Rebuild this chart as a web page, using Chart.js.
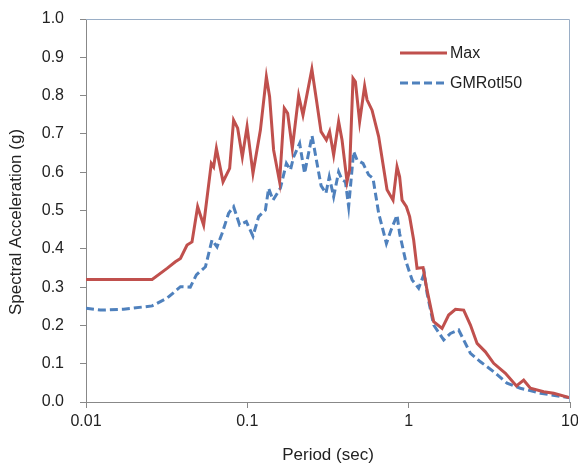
<!DOCTYPE html>
<html>
<head>
<meta charset="utf-8">
<script src="https://cdn.jsdelivr.net/npm/chart.js@4.4.1/dist/chart.umd.min.js"></script>
<style>
  html, body { margin: 0; padding: 0; background: #fff; }
  #wrap { width: 578px; height: 467px; }
</style>
</head>
<body>
<div id="wrap"><canvas id="specChart" width="578" height="467"></canvas></div>
<script>
// periodos (s) e valores
const maxPeriods = [0.01, 0.0257, 0.0318, 0.0358, 0.0385, 0.0423, 0.0454, 0.0492, 0.0536, 0.0598,
  0.0618, 0.0643, 0.0707, 0.0777, 0.0822, 0.0871, 0.0931, 0.0996, 0.1084, 0.1205,
  0.1312, 0.1374, 0.1455, 0.1585, 0.1695, 0.1778, 0.190, 0.208, 0.2213, 0.2512,
  0.268, 0.2864, 0.309, 0.3236, 0.3428, 0.3681, 0.3864, 0.415, 0.4305, 0.4519,
  0.4677, 0.4966, 0.5333, 0.552, 0.593, 0.6516, 0.7345, 0.80, 0.847, 0.879,
  0.91, 0.968, 1.014, 1.074, 1.127, 1.228, 1.30, 1.429, 1.611, 1.77,
  1.95, 2.193, 2.415, 2.655, 2.99, 3.365, 3.98, 4.656, 5.164, 5.68,
  6.87, 7.925, 10];
const maxValues = [0.32, 0.32, 0.349, 0.366, 0.375, 0.41, 0.418, 0.51, 0.462, 0.623,
  0.614, 0.662, 0.575, 0.61, 0.736, 0.715, 0.64, 0.719, 0.597, 0.71,
  0.849, 0.797, 0.658, 0.575, 0.767, 0.754, 0.662, 0.80, 0.749, 0.869,
  0.789, 0.706, 0.684, 0.706, 0.645, 0.732, 0.684, 0.575, 0.606, 0.845,
  0.836, 0.732, 0.825, 0.789, 0.762, 0.693, 0.554, 0.527, 0.614, 0.588,
  0.527, 0.51, 0.484, 0.423, 0.349, 0.351, 0.292, 0.21, 0.192, 0.227,
  0.242, 0.24, 0.201, 0.153, 0.131, 0.101, 0.075, 0.042, 0.057, 0.036,
  0.027, 0.023, 0.011];

const gmPeriods = [0.01, 0.01227, 0.0171, 0.0257, 0.0318, 0.0385, 0.0443, 0.0483, 0.055, 0.0604,
  0.0649, 0.0697, 0.0766, 0.0822, 0.0896, 0.0986, 0.1084, 0.1175, 0.1294, 0.1355,
  0.1443, 0.1602, 0.1746, 0.185, 0.1936, 0.211, 0.2264, 0.2518, 0.269, 0.2864,
  0.307, 0.322, 0.3428, 0.3681, 0.3864, 0.4055, 0.4246, 0.456, 0.4786, 0.5212,
  0.565, 0.601, 0.6516, 0.7278, 0.778, 0.847, 0.879, 0.955, 1.05, 1.153,
  1.25, 1.30, 1.429, 1.648, 1.815, 2.042, 2.193, 2.415, 2.786, 3.365,
  4.074, 4.92, 6.56, 10];
const gmValues = [0.245, 0.24, 0.242, 0.251, 0.271, 0.301, 0.30, 0.332, 0.353, 0.423,
  0.405, 0.44, 0.493, 0.51, 0.462, 0.471, 0.433, 0.484, 0.501, 0.558,
  0.527, 0.558, 0.623, 0.606, 0.64, 0.675, 0.597, 0.695, 0.628, 0.565,
  0.545, 0.588, 0.536, 0.601, 0.58, 0.575, 0.51, 0.654, 0.632, 0.623,
  0.593, 0.584, 0.493, 0.414, 0.449, 0.488, 0.44, 0.371, 0.319, 0.297,
  0.336, 0.284, 0.201, 0.162, 0.179, 0.188, 0.162, 0.127, 0.105, 0.079,
  0.049, 0.036, 0.023, 0.011];

const xTicks = [0.01, 0.1, 1, 10];
const seriesNames = ['Max', 'GMRotl50'];
const yTitle = 'Spectral Acceleration (g)';

const toPoints = (xs, ys) => xs.map((x, i) => ({ x: x, y: ys[i] }));

// moldura superior/direita da area do grafico
const plotFrame = {
  id: 'plotFrame',
  afterDraw(chart) {
    const { ctx, chartArea: a } = chart;
    ctx.save();
    ctx.strokeStyle = '#9aaec6';
    ctx.lineWidth = 1;
    ctx.beginPath();
    ctx.moveTo(a.left, a.top + 0.5);
    ctx.lineTo(a.right - 0.5, a.top + 0.5);
    ctx.lineTo(a.right - 0.5, a.bottom);
    ctx.stroke();
    ctx.restore();
  }
};

// legenda dentro da area do grafico + titulo do eixo Y
const innerLegend = {
  id: 'innerLegend',
  afterDraw(chart) {
    const ctx = chart.ctx;
    const x0 = 400, x1 = 447, rows = [53, 83];
    ctx.save();
    chart.data.datasets.forEach((ds, i) => {
      ctx.strokeStyle = ds.borderColor;
      ctx.lineWidth = 3;
      ctx.setLineDash(ds.borderDash || []);
      ctx.beginPath();
      ctx.moveTo(x0, rows[i]);
      ctx.lineTo(x1, rows[i]);
      ctx.stroke();
      ctx.setLineDash([]);
      ctx.fillStyle = '#222';
      ctx.font = '16px "Liberation Sans", Arial, sans-serif';
      ctx.textBaseline = 'middle';
      ctx.fillText(ds.label, x1 + 3, rows[i] + 1);
    });
    // titulo Y
    ctx.translate(16, 222);
    ctx.rotate(-Math.PI / 2);
    ctx.font = '17px "Liberation Sans", Arial, sans-serif';
    ctx.textAlign = 'center';
    ctx.textBaseline = 'middle';
    ctx.fillText(yTitle, 0, 0);
    ctx.restore();
  }
};

const fonte = { family: '"Liberation Sans", Arial, sans-serif', size: 16 };

new Chart(document.getElementById('specChart').getContext('2d'), {
  type: 'line',
  data: {
    datasets: [
      {
        label: seriesNames[0],
        data: toPoints(maxPeriods, maxValues),
        borderColor: '#c0504d',
        borderWidth: 3,
        pointRadius: 0,
        tension: 0,
        fill: false
      },
      {
        label: seriesNames[1],
        data: toPoints(gmPeriods, gmValues),
        borderColor: '#4f81bd',
        borderWidth: 3,
        borderDash: [8, 4],
        pointRadius: 0,
        tension: 0,
        fill: false
      }
    ]
  },
  options: {
    responsive: false,
    animation: false,
    layout: { padding: { left: 0, right: 8, top: 19, bottom: 0 } },
    plugins: {
      legend: { display: false },
      tooltip: { enabled: false }
    },
    scales: {
      x: {
        type: 'logarithmic',
        min: 0.01,
        max: 10,
        afterBuildTicks: s => { s.ticks = xTicks.map(v => ({ value: v })); },
        afterFit: s => { s.height = 65; s.paddingLeft = 0; s.paddingRight = 0; },
        ticks: {
          color: '#222',
          font: fonte,
          padding: 4,
          maxRotation: 0,
          autoSkip: false,
          callback: v => String(v)
        },
        grid: { drawOnChartArea: false, drawTicks: true, tickLength: 6, color: '#888' },
        border: { color: '#888', width: 1 },
        title: { display: true, text: 'Period (sec)', color: '#222', font: { family: fonte.family, size: 17 }, padding: { top: 4, bottom: 1 } }
      },
      y: {
        min: 0,
        max: 1,
        afterFit: s => { s.width = 86; s.paddingTop = 0; s.paddingBottom = 0; },
        ticks: {
          stepSize: 0.1,
          color: '#222',
          font: fonte,
          padding: 16,
          callback: v => v.toFixed(1)
        },
        grid: { drawOnChartArea: false, drawTicks: true, tickLength: 6, color: '#888' },
        border: { color: '#888', width: 1 },
        title: { display: false }
      }
    }
  },
  plugins: [plotFrame, innerLegend]
});
</script>
</body>
</html>
